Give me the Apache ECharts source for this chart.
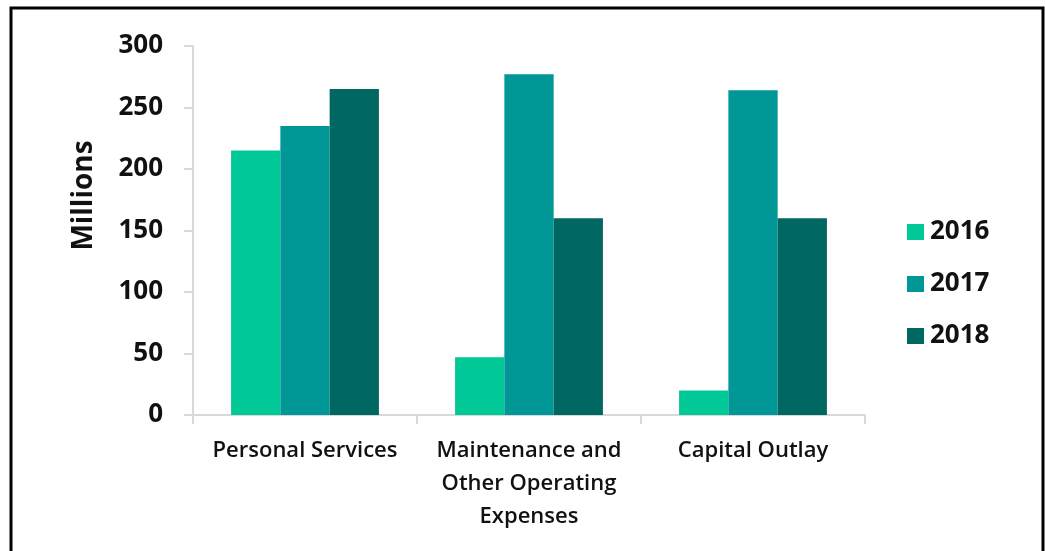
<!DOCTYPE html>
<html>
<head>
<meta charset="utf-8">
<script src="https://cdn.jsdelivr.net/npm/echarts@6/dist/echarts.min.js"></script>
<style>
  html, body { margin: 0; padding: 0; background: #fff; }
  #chart { width: 1045px; height: 551px; }
</style>
</head>
<body>
<div id="chart"></div>
<script>
// Expenditure by category, in millions
const categories = ['Personal Services', 'Maintenance and\nOther Operating\nExpenses', 'Capital Outlay'];
const years = ['2016', '2017', '2018'];
const values2016 = [215, 47, 20];
const values2017 = [235, 277, 264];
const values2018 = [265, 160, 160];
const yTicks = { min: 0, max: 300, interval: 50 };

const colors = ['#00C896', '#009796', '#006763'];
const font = "'Open Sans', sans-serif";
const seriesValues = [values2016, values2017, values2018];

const chart = echarts.init(document.getElementById('chart'), null, { renderer: 'canvas' });
chart.setOption({
  animation: false,
  backgroundColor: '#ffffff',
  textStyle: { fontFamily: font },
  graphic: [{
    type: 'rect',
    shape: { x: 11, y: 8, width: 1032, height: 600 },
    style: { fill: 'none', stroke: '#000', lineWidth: 3 },
    silent: true
  }],
  grid: { left: 193, right: 180, top: 46, bottom: 136, containLabel: false },
  legend: {
    orient: 'vertical',
    left: 902,
    top: 214,
    itemWidth: 17,
    itemHeight: 16,
    itemGap: 26,
    icon: 'rect',
    data: years,
    textStyle: { fontFamily: font, fontSize: 26, fontWeight: 'bold', color: '#111', lineHeight: 25, padding: [0, 0, 0, 1] }
  },
  xAxis: {
    type: 'category',
    data: categories,
    axisLine: { show: true, lineStyle: { color: '#d9d9d9', width: 2 } },
    axisTick: { show: true, length: 9, lineStyle: { color: '#d9d9d9', width: 2 } },
    axisLabel: {
      margin: 19,
      interval: 0,
      fontFamily: font,
      fontSize: 22,
      fontWeight: 600,
      lineHeight: 33,
      color: '#111'
    }
  },
  yAxis: {
    type: 'value',
    min: yTicks.min,
    max: yTicks.max,
    interval: yTicks.interval,
    name: 'Millions',
    nameLocation: 'middle',
    nameGap: 95,
    nameTextStyle: { fontFamily: font, fontSize: 28, fontWeight: 'bold', color: '#111', padding: [0, 0, 0, 70] },
    splitLine: { show: false },
    axisLine: { show: true, lineStyle: { color: '#d9d9d9', width: 2 } },
    axisTick: { show: true, length: 9, lineStyle: { color: '#d9d9d9', width: 2 } },
    axisLabel: { margin: 30, fontFamily: font, fontSize: 26, fontWeight: 'bold', color: '#111' }
  },
  series: years.map((y, i) => ({
    name: y,
    type: 'bar',
    data: seriesValues[i],
    barGap: '0%',
    barCategoryGap: '34%',
    itemStyle: { color: colors[i] }
  }))
});
</script>
</body>
</html>
